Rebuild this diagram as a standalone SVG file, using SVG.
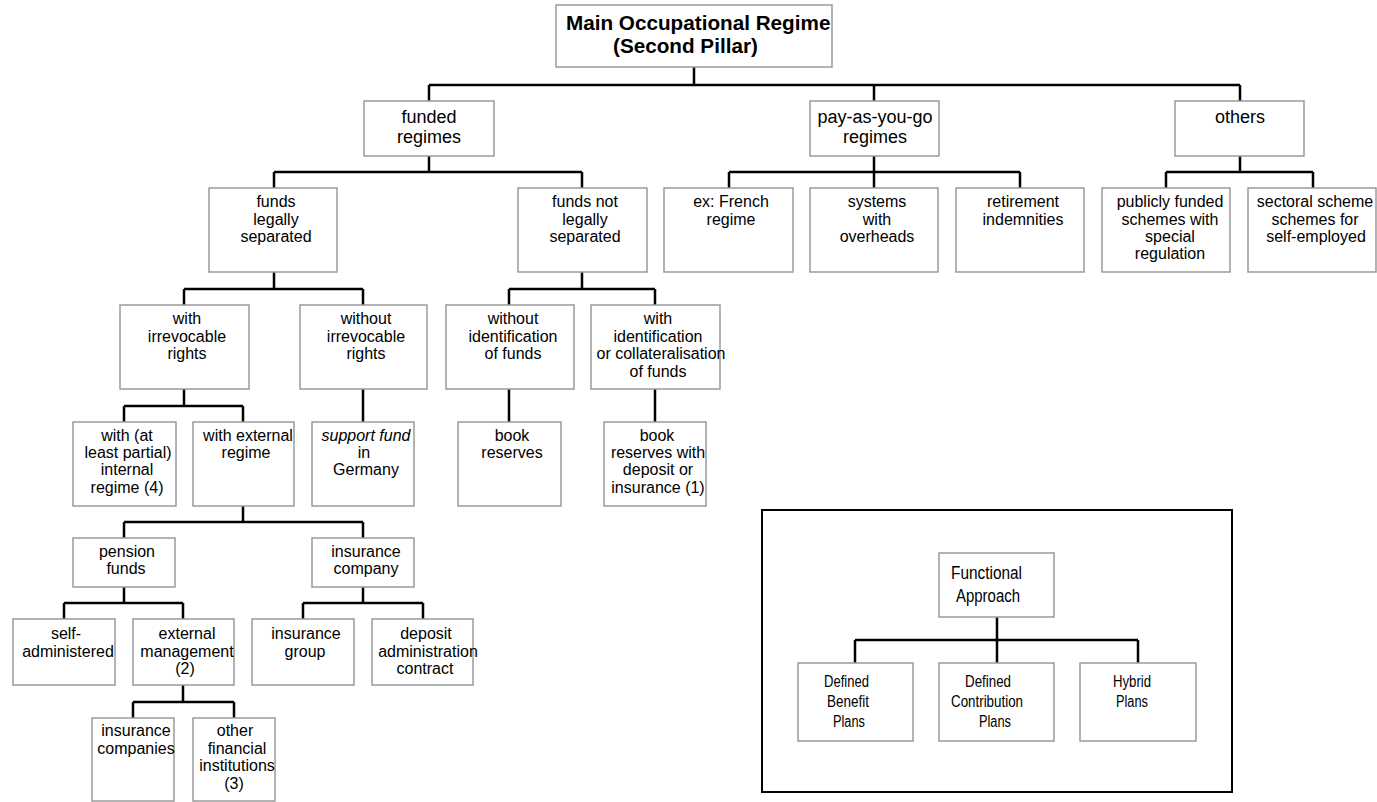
<svg xmlns="http://www.w3.org/2000/svg" width="1377" height="802" viewBox="0 0 1377 802">
<style>
.b{fill:#fff;stroke:#9a9a9a;stroke-width:1.5}
.c{fill:none;stroke:#000;stroke-width:2.5}
text{font-family:"Liberation Sans",Arial,sans-serif;font-size:16px;fill:#000;text-anchor:middle}
.t1{font-size:18px}
.ttl{font-size:20.7px;font-weight:bold;text-anchor:start}
.n{text-anchor:start}
.fa{font-size:17.5px}
</style>
<rect width="1377" height="802" fill="#fff"/>
<g id="connectors">
<path class="c" d="M694 67V85M429 85H1240M429 85V101M874 85V101M1240 85V101"/>
<path class="c" d="M429 156V172M274 172H582M274 172V188M582 172V188"/>
<path class="c" d="M874 156V188M729 172H1020M729 172V188M1020 172V188"/>
<path class="c" d="M1240 156V172M1166 172H1313M1166 172V188M1313 172V188"/>
<path class="c" d="M274 272V289M184 289H363M184 289V305M363 289V305"/>
<path class="c" d="M582 272V289M509 289H655M509 289V305M655 289V305"/>
<path class="c" d="M184 389V406M124 406H243M124 406V422M243 406V422"/>
<path class="c" d="M363 389V422M509 389V422M655 389V422"/>
<path class="c" d="M243 506V522M124 522H363M124 522V538M363 522V538"/>
<path class="c" d="M124 587V603M64 603H183M64 603V619M183 603V619"/>
<path class="c" d="M363 587V603M303 603H423M303 603V619M423 603V619"/>
<path class="c" d="M183 685V702M133 702H234M133 702V718M234 702V718"/>
<path class="c" d="M997 617V640M855 640H1138M855 640V663M997 640V663M1138 640V663"/>
</g>
<g id="main"><rect class="b" x="556" y="5" width="276" height="62"/><text class="ttl" x="566" y="30">Main Occupational Regime</text><text class="ttl" x="613" y="53">(Second Pillar)</text></g>
<g id="funded"><rect class="b" x="364" y="101" width="130" height="55"/><text class="t1" x="429" y="123">funded</text><text class="t1" x="429" y="143">regimes</text></g>
<g id="payg"><rect class="b" x="810" y="101" width="129" height="55"/><text class="t1" x="875" y="123">pay-as-you-go</text><text class="t1" x="875" y="143">regimes</text></g>
<g id="others"><rect class="b" x="1175" y="101" width="129" height="55"/><text class="t1" x="1240" y="123">others</text></g>
<g id="fls"><rect class="b" x="209" y="188" width="128" height="84"/><text x="276" y="207">funds</text><text x="276" y="225">legally</text><text x="276" y="242">separated</text></g>
<g id="fnls"><rect class="b" x="518" y="188" width="129" height="84"/><text x="585" y="207">funds not</text><text x="585" y="225">legally</text><text x="585" y="242">separated</text></g>
<g id="french"><rect class="b" x="664" y="188" width="129" height="84"/><text x="731" y="207">ex: French</text><text x="731" y="225">regime</text></g>
<g id="systems"><rect class="b" x="810" y="188" width="128" height="84"/><text x="877" y="207">systems</text><text x="877" y="225">with</text><text x="877" y="242">overheads</text></g>
<g id="retirement"><rect class="b" x="956" y="188" width="128" height="84"/><text x="1023" y="207">retirement</text><text x="1023" y="225">indemnities</text></g>
<g id="publicly"><rect class="b" x="1102" y="188" width="128" height="84"/><text x="1170" y="207">publicly funded</text><text x="1170" y="225">schemes with</text><text x="1170" y="242">special</text><text x="1170" y="259">regulation</text></g>
<g id="sectoral"><rect class="b" x="1248" y="188" width="128" height="84"/><text x="1315" y="207">sectoral scheme</text><text x="1315" y="225">schemes for</text><text x="1316" y="242">self-employed</text></g>
<g id="withirrev"><rect class="b" x="120" y="305" width="129" height="84"/><text x="187" y="324">with</text><text x="187" y="342">irrevocable</text><text x="187" y="359">rights</text></g>
<g id="withoutirrev"><rect class="b" x="300" y="305" width="127" height="84"/><text x="366" y="324">without</text><text x="366" y="342">irrevocable</text><text x="366" y="359">rights</text></g>
<g id="withoutident"><rect class="b" x="446" y="305" width="128" height="84"/><text x="513" y="324">without</text><text x="513" y="342">identification</text><text x="513" y="359">of funds</text></g>
<g id="withident"><rect class="b" x="591" y="305" width="129" height="84"/><text x="658" y="324">with</text><text x="658" y="342">identification</text><text x="661" y="359">or collateralisation</text><text x="658" y="377">of funds</text></g>
<g id="internal"><rect class="b" x="73" y="422" width="103" height="84"/><text x="127" y="441">with (at</text><text x="128" y="458">least partial)</text><text x="127" y="475">internal</text><text x="127" y="493">regime (4)</text></g>
<g id="external"><rect class="b" x="193" y="422" width="101" height="84"/><text x="248" y="441">with external</text><text x="246" y="458">regime</text></g>
<g id="support"><rect class="b" x="312" y="422" width="102" height="84"/><text x="366" y="441" font-style="italic">support fund</text><text x="364" y="458">in</text><text x="366" y="475">Germany</text></g>
<g id="book"><rect class="b" x="458" y="422" width="103" height="84"/><text x="512" y="441">book</text><text x="512" y="458">reserves</text></g>
<g id="bookdep"><rect class="b" x="604" y="422" width="102" height="84"/><text x="657" y="441">book</text><text x="658" y="458">reserves with</text><text x="658" y="475">deposit or</text><text x="658" y="493">insurance (1)</text></g>
<g id="pension"><rect class="b" x="73" y="538" width="102" height="49"/><text x="127" y="557">pension</text><text x="126" y="574">funds</text></g>
<g id="inscompany"><rect class="b" x="312" y="538" width="102" height="49"/><text x="366" y="557">insurance</text><text x="366" y="574">company</text></g>
<g id="self"><rect class="b" x="13" y="619" width="102" height="66"/><text x="66" y="639">self-</text><text x="68" y="657">administered</text></g>
<g id="extmgmt"><rect class="b" x="133" y="619" width="101" height="66"/><text x="187" y="639">external</text><text x="187" y="657">management</text><text x="185" y="674">(2)</text></g>
<g id="insgroup"><rect class="b" x="252" y="619" width="102" height="66"/><text x="306" y="639">insurance</text><text x="305" y="657">group</text></g>
<g id="deposit"><rect class="b" x="372" y="619" width="101" height="66"/><text x="426" y="639">deposit</text><text x="428" y="657">administration</text><text x="425" y="674">contract</text></g>
<g id="inscompanies"><rect class="b" x="92" y="718" width="82" height="83"/><text x="136" y="736">insurance</text><text x="136" y="754">companies</text></g>
<g id="otherfin"><rect class="b" x="193" y="718" width="82" height="83"/><text x="235" y="736">other</text><text x="237" y="754">financial</text><text x="237" y="771">institutions</text><text x="234" y="789">(3)</text></g>
<g id="functional-frame"><rect x="762" y="510" width="470" height="282" fill="none" stroke="#000" stroke-width="2"/></g>
<g id="functional"><rect class="b" x="939" y="553" width="115" height="64" stroke-width="2"/><text class="fa n" x="951" y="579" textLength="71" lengthAdjust="spacingAndGlyphs">Functional</text><text class="fa n" x="956" y="602" textLength="64" lengthAdjust="spacingAndGlyphs">Approach</text></g>
<g id="db"><rect class="b" x="798" y="663" width="115" height="78" stroke-width="2"/><text class="n" x="824" y="687" textLength="45" lengthAdjust="spacingAndGlyphs">Defined</text><text class="n" x="827" y="707" textLength="42" lengthAdjust="spacingAndGlyphs">Benefit</text><text class="n" x="833" y="727" textLength="32" lengthAdjust="spacingAndGlyphs">Plans</text></g>
<g id="dc"><rect class="b" x="939" y="663" width="115" height="78" stroke-width="2"/><text class="n" x="965" y="687" textLength="46" lengthAdjust="spacingAndGlyphs">Defined</text><text class="n" x="951" y="707" textLength="72" lengthAdjust="spacingAndGlyphs">Contribution</text><text class="n" x="979" y="727" textLength="32" lengthAdjust="spacingAndGlyphs">Plans</text></g>
<g id="hybrid"><rect class="b" x="1080" y="663" width="116" height="78" stroke-width="2"/><text class="n" x="1113" y="687" textLength="38" lengthAdjust="spacingAndGlyphs">Hybrid</text><text class="n" x="1116" y="707" textLength="32" lengthAdjust="spacingAndGlyphs">Plans</text></g>
</svg>
